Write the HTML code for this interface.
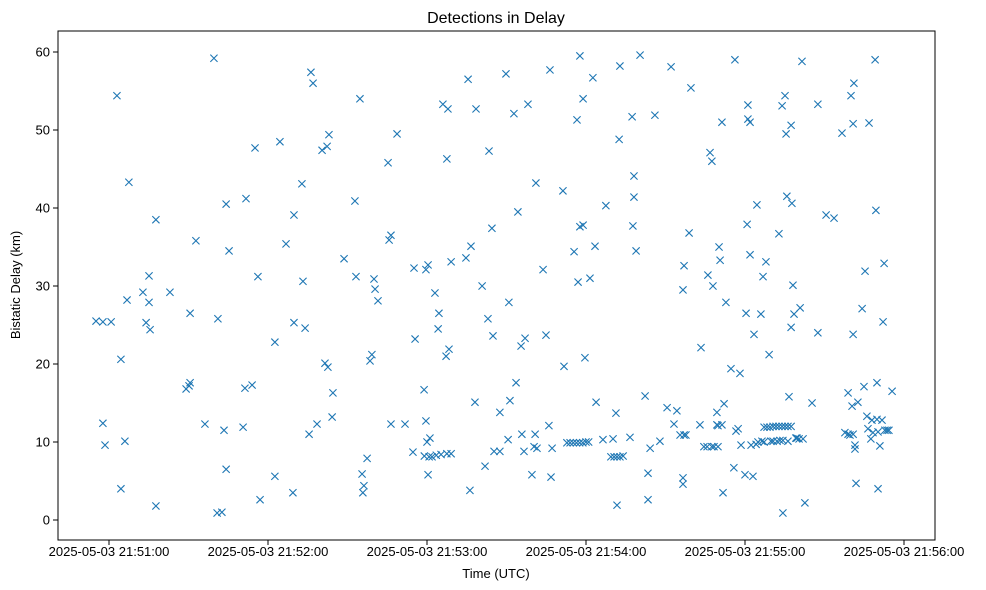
<!DOCTYPE html>
<html><head><meta charset="utf-8">
<style>
html,body{margin:0;padding:0;background:#fff;}
svg{display:block;font-family:"Liberation Sans","DejaVu Sans",sans-serif;}
</style></head>
<body>
<svg id="chart" width="986" height="590" viewBox="0 0 986 590">
  <rect x="0" y="0" width="986" height="590" fill="#fff"/>
  <text x="496" y="23" text-anchor="middle" font-size="16" fill="#000">Detections in Delay</text>
  <g id="marks"></g>
  <g id="axes"></g>
  <rect x="58" y="31" width="877" height="509" fill="none" stroke="#000" stroke-width="1"/>
  <text x="496" y="578" text-anchor="middle" font-size="13" fill="#000">Time (UTC)</text>
  <text x="20" y="285" text-anchor="middle" font-size="13" fill="#000" transform="rotate(-90 20 285)">Bistatic Delay (km)</text>
</svg>
<script>
// time: seconds after 21:50:00 UTC ; delay: km
const xTickSeconds = [60, 120, 180, 240, 300, 360];
const xTickLabels = ["2025-05-03 21:51:00","2025-05-03 21:52:00","2025-05-03 21:53:00","2025-05-03 21:54:00","2025-05-03 21:55:00","2025-05-03 21:56:00"];
const yTicks = [0, 10, 20, 30, 40, 50, 60];
const detections = [
[55.1,25.5],[57.7,25.4],[60.8,25.4],[57.7,12.4],[58.5,9.6],[63.0,54.4],[64.5,20.6],[64.5,4.0],[66.0,10.1],[66.8,28.2],[67.5,43.3],
[72.8,29.2],[74.0,25.3],[75.1,31.3],[75.1,27.9],[75.5,24.4],[77.7,1.8],[77.7,38.5],[83.0,29.2],[89.1,16.8],[90.2,17.2],[90.6,17.6],[90.6,26.5],
[92.8,35.8],[96.2,12.3],[99.6,59.2],[100.8,0.9],[101.1,25.8],[102.6,1.0],[103.4,11.5],[104.2,6.5],[104.2,40.5],[105.3,34.5],[110.6,11.9],
[111.3,16.9],[111.7,41.2],[114.0,17.3],[115.1,47.7],[116.2,31.2],[117.0,2.6],[122.6,22.8],[124.5,48.5],[122.6,5.6],[126.8,35.4],[129.4,3.5],
[129.8,39.1],[129.8,25.3],[132.8,43.1],[133.2,30.6],[134.0,24.6],[135.5,11.0],[136.2,57.4],[137.0,56.0],[138.5,12.3],[140.4,47.4],[142.3,47.9],
[141.5,20.1],[142.6,19.6],[143.0,49.4],[144.2,13.2],[144.5,16.3],[148.7,33.5],[152.8,40.9],[153.2,31.2],[154.7,54.0],[155.5,5.9],[155.8,3.5],
[156.2,4.4],[157.4,7.9],[158.5,20.4],[159.2,21.2],[160.0,30.9],[160.4,29.6],[161.5,28.1],[165.3,45.8],[165.7,35.9],[166.4,36.5],[166.4,12.3],
[168.7,49.5],[171.7,12.3],[174.7,8.7],[175.1,32.3],[175.5,23.2],[178.9,16.7],[179.6,12.7],[180.0,10.0],[180.4,5.8],[179.6,32.1],[180.4,32.7],
[180.8,8.1],[181.1,10.5],[181.9,8.1],[179.0,8.2],[183.5,8.3],[185.3,8.4],[187.5,8.5],[189.1,8.5],[183.0,29.1],[184.5,26.5],[184.2,24.5],
[186.0,53.3],[187.9,52.7],[187.2,21.0],[187.5,46.3],[188.3,21.9],[189.1,33.1],[194.7,33.6],[195.5,56.5],[196.2,3.8],[196.6,35.1],[198.1,15.1],
[198.5,52.7],[200.8,30.0],[201.9,6.9],[203.0,25.8],[203.4,47.3],[204.5,37.4],[204.9,23.6],[205.3,8.8],[207.5,8.8],[207.5,13.8],[209.8,57.2],
[210.6,10.3],[210.9,27.9],[211.3,15.3],[212.8,52.1],[213.6,17.6],[214.3,39.5],[215.5,22.3],[215.8,11.0],[216.6,8.8],[217.0,23.3],[218.1,53.3],
[219.6,5.8],[220.4,9.4],[220.8,11.0],[221.1,43.2],[221.5,9.2],[223.8,32.1],[224.9,23.7],[226.0,12.1],[226.4,57.7],[226.8,5.5],[227.2,9.2],
[231.3,42.2],[231.7,19.7],[232.8,9.9],[234.0,9.9],[235.2,9.9],[236.4,9.9],[237.6,9.9],[238.8,9.9],[240.0,10.0],[241.0,10.0],[235.5,34.4],
[236.6,51.3],[237.0,30.5],[237.7,37.6],[237.7,59.5],[238.9,37.8],[238.9,54.0],[239.6,20.8],[241.5,31.0],[242.6,56.7],[243.4,35.1],[243.8,15.1],
[247.5,40.3],[246.4,10.3],[250.2,10.4],[249.4,8.1],[250.6,8.1],[251.7,8.1],[252.8,8.1],[254.0,8.2],[251.3,13.7],[251.7,1.9],[252.5,48.8],
[252.8,58.2],[256.6,10.6],[257.4,51.7],[257.7,37.7],[258.1,44.1],[258.1,41.4],[258.9,34.5],[260.4,59.6],[262.3,15.9],[263.4,2.6],[263.4,6.0],
[264.2,9.2],[266.0,51.9],[267.9,10.1],[270.6,14.4],[272.1,58.1],[273.2,12.3],[274.3,14.0],[275.5,10.9],[277.0,10.9],[277.7,10.9],[276.6,5.4],
[276.6,4.6],[277.0,32.6],[276.6,29.5],[278.9,36.8],[279.6,55.4],[283.0,12.2],[283.4,22.1],[284.5,9.4],[285.7,9.4],[287.5,9.4],[288.3,9.4],
[289.8,9.4],[286.0,31.4],[286.8,47.1],[287.5,46.0],[287.9,30.0],[289.4,12.2],[289.4,13.8],[289.8,12.1],[291.3,12.2],[290.2,35.0],[290.6,33.3],
[291.3,51.0],[291.7,3.5],[292.1,14.9],[292.8,27.9],[294.7,19.4],[295.8,6.7],[296.2,59.0],[296.6,11.4],[297.4,11.7],[298.1,18.8],[298.5,9.6],
[300.0,5.8],[300.4,26.5],[300.8,37.9],[301.1,51.4],[301.1,53.2],[301.9,51.0],[301.9,34.0],[302.3,9.6],[303.0,5.6],[303.4,23.8],[304.2,9.7],
[304.5,40.4],[304.9,10.0],[306.0,26.4],[306.4,10.1],[306.8,31.2],[307.2,10.0],[307.9,33.1],[309.1,21.2],[307.2,11.9],[308.3,11.9],[309.4,11.9],
[310.6,12.0],[311.7,12.0],[312.8,12.0],[314.0,12.0],[315.1,12.0],[316.2,12.0],[317.4,12.0],[309.8,10.1],[310.6,10.1],[312.1,10.1],[313.2,10.2],
[314.3,10.2],[312.8,36.7],[314.0,53.1],[314.3,0.9],[315.1,54.4],[315.5,49.5],[315.8,41.5],[316.2,10.1],[316.6,15.8],[317.4,50.6],[317.7,40.6],
[317.4,24.7],[318.1,30.1],[318.5,26.4],[319.2,10.5],[319.6,10.5],[320.8,27.2],[321.5,58.8],[320.4,10.4],[321.9,10.4],[322.6,2.2],[325.3,15.0],
[327.5,53.3],[327.5,24.0],[330.6,39.1],[333.6,38.7],[336.6,49.6],[337.7,11.2],[338.9,11.0],[339.6,10.9],[340.8,11.0],[338.9,16.3],[340.0,54.4],
[340.4,14.6],[340.8,50.8],[340.8,23.8],[341.1,56.0],[341.5,9.6],[341.5,9.1],[341.9,4.7],[342.6,15.1],[344.2,27.1],[344.9,17.1],[345.3,31.9],
[346.0,13.3],[346.4,11.7],[346.8,50.9],[347.5,10.4],[347.9,12.8],[348.3,11.2],[349.1,59.0],[349.4,39.7],[349.8,12.9],[349.8,17.6],[350.2,11.3],
[350.2,4.0],[350.9,9.5],[351.7,12.8],[352.1,25.4],[352.5,32.9],[352.8,11.5],[353.6,11.5],[354.3,11.5],[355.5,16.5]
];

const NS = "http://www.w3.org/2000/svg";
function xScale(t){ return 109 + (t - 60) * 2.65; }
function yScale(d){ return 520 - d * 7.8; }

const marks = document.getElementById("marks");
detections.forEach(function(p, i){
  const cx = xScale(p[0]), cy = yScale(p[1]), r = 3.6;
  const path = document.createElementNS(NS, "path");
  path.setAttribute("d", "M" + (cx - r) + " " + (cy - r) + "L" + (cx + r) + " " + (cy + r) + "M" + (cx - r) + " " + (cy + r) + "L" + (cx + r) + " " + (cy - r));
  path.setAttribute("stroke", "#1f77b4");
  path.setAttribute("stroke-width", "1.1");
  path.setAttribute("fill", "none");
  
  
  marks.appendChild(path);
});

const axes = document.getElementById("axes");
xTickSeconds.forEach(function(t, i){
  const x = xScale(t);
  const tick = document.createElementNS(NS, "line");
  tick.setAttribute("x1", x); tick.setAttribute("x2", x);
  tick.setAttribute("y1", 540); tick.setAttribute("y2", 545);
  tick.setAttribute("stroke", "#000");
  
  
  axes.appendChild(tick);
  const lbl = document.createElementNS(NS, "text");
  lbl.setAttribute("x", x); lbl.setAttribute("y", 556);
  lbl.setAttribute("text-anchor", "middle");
  lbl.setAttribute("font-size", "13");
  lbl.textContent = xTickLabels[i];
  
  
  axes.appendChild(lbl);
});
yTicks.forEach(function(v){
  const y = yScale(v);
  const tick = document.createElementNS(NS, "line");
  tick.setAttribute("x1", 53); tick.setAttribute("x2", 58);
  tick.setAttribute("y1", y); tick.setAttribute("y2", y);
  tick.setAttribute("stroke", "#000");
  
  
  axes.appendChild(tick);
  const lbl = document.createElementNS(NS, "text");
  lbl.setAttribute("x", 50); lbl.setAttribute("y", y + 4.5);
  lbl.setAttribute("text-anchor", "end");
  lbl.setAttribute("font-size", "13");
  lbl.textContent = String(v);
  
  
  axes.appendChild(lbl);
});
</script>
</body></html>
